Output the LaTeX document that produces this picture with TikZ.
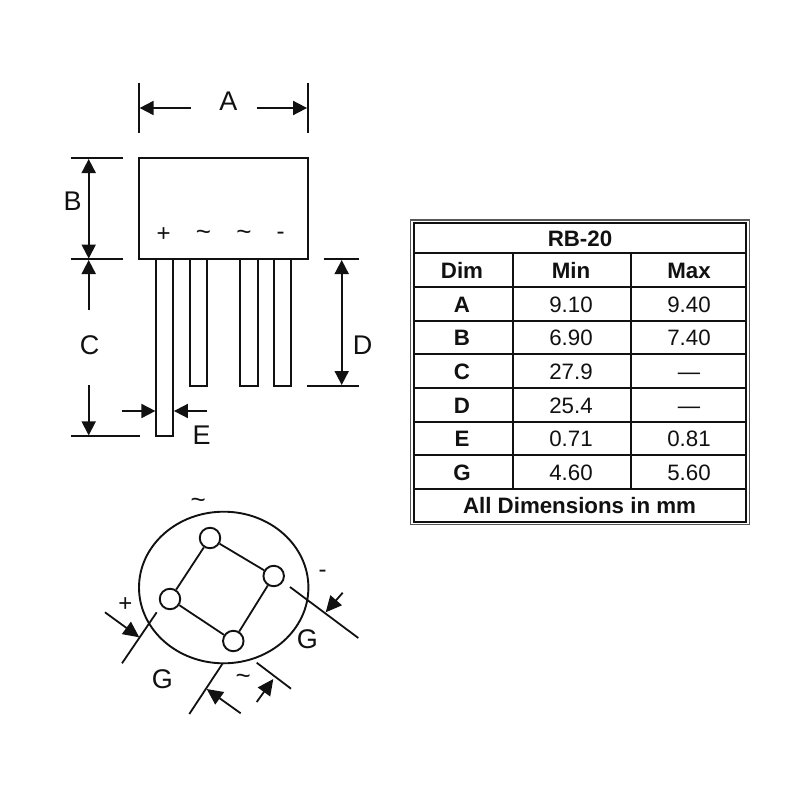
\documentclass[tikz,border=0pt]{standalone}
\usepackage{fontspec}
\setmainfont{Liberation Sans}
\usetikzlibrary{arrows.meta}
\definecolor{ink}{HTML}{111111}
\tikzset{
  part/.style={draw=ink,line width=1.9pt,fill=white},
  guide/.style={draw=ink,line width=1.8pt},
  dimline/.style={draw=ink,line width=1.8pt,-{Triangle[length=14pt,width=14pt]}},
  slantdim/.style={draw=ink,line width=1.8pt,-{Triangle[length=16pt,width=15pt]}},
  dimboth/.style={draw=ink,line width=1.8pt,{Triangle[length=14pt,width=14pt]}-{Triangle[length=14pt,width=14pt]}},
  letter/.style={text=ink,font=\fontsize{27}{27}\selectfont,inner sep=0pt,text height=19.5pt,text depth=0pt},
  pinmark/.style={text=ink,font=\fontsize{24}{24}\selectfont,inner sep=0pt},
  tilde/.style={text=ink,font=\fontsize{26}{26}\selectfont,inner sep=0pt},
  pad/.style={circle,draw=ink,line width=1.9pt,fill=white,minimum size=20.5pt,inner sep=0pt},
  rule/.style={draw=ink,line width=1.8pt},
  head/.style={text=ink,font=\bfseries\fontsize{22.3}{22.3}\selectfont,inner sep=0pt,text height=16pt,text depth=0pt},
  val/.style={text=ink,font=\fontsize{22.3}{22.3}\selectfont,inner sep=0pt,text height=16pt,text depth=0pt}
}
\begin{document}
\begin{tikzpicture}[x=1pt,y=-1pt]
\fill[white,use as bounding box] (0,0) rectangle (800,800);

% --- side view ---
\draw[part] (139,158.3) rectangle (308,259.3);
\draw[part] (156,259.3) rectangle (173.3,436);
\draw[part] (189.7,259.3) rectangle (207,386);
\draw[part] (240.3,259.3) rectangle (257.7,386);
\draw[part] (273.7,259.3) rectangle (291,386);

\node[pinmark] (pinA) at (163.7,235) {+};
\node[tilde] (pinB) at (203.5,235) {\textasciitilde};
\node[tilde] (pinC) at (244,235) {\textasciitilde};
\node[pinmark] (pinD) at (280.7,236) {-};

% A
\coordinate (a1) at (139,82.7); \coordinate (a2) at (139,133);
\coordinate (a3) at (307.7,82.7); \coordinate (a4) at (307.7,133);
\draw[guide] (a1) -- (a2);
\draw[guide] (a3) -- (a4);
\node[letter] (lblA) at (228.5,100.5) {A};
\coordinate (a5) at (190.7,108); \coordinate (a6) at (139.6,108);
\coordinate (a7) at (256.7,108); \coordinate (a8) at (307.1,108);
\draw[dimline] (a5) -- (a6);
\draw[dimline] (a7) -- (a8);

% B
\coordinate (b1) at (71,158.3); \coordinate (b2) at (122.7,158.3);
\coordinate (b3) at (71,259.3); \coordinate (b4) at (122.7,259.3);
\draw[guide] (b1) -- (b2);
\draw[guide] (b3) -- (b4);
\coordinate (b5) at (88.7,159); \coordinate (b6) at (88.7,258.6);
\draw[dimboth] (b5) -- (b6);
\node[letter] (lblB) at (72.7,200.7) {B};

% C
\coordinate (c1) at (88.7,310); \coordinate (c2) at (88.7,260);
\coordinate (c3) at (88.7,385); \coordinate (c4) at (88.7,435.4);
\coordinate (c5) at (71,436); \coordinate (c6) at (140,436);
\draw[dimline] (c1) -- (c2);
\draw[dimline] (c3) -- (c4);
\draw[guide] (c5) -- (c6);
\node[letter] (lblC) at (89.5,344.5) {C};

% D
\coordinate (d1) at (323.7,259.3); \coordinate (d2) at (358.7,259.3);
\coordinate (d3) at (307,385.7); \coordinate (d4) at (358.7,385.7);
\draw[guide] (d1) -- (d2);
\draw[guide] (d3) -- (d4);
\coordinate (d5) at (341.7,260); \coordinate (d6) at (341.7,385);
\draw[dimboth] (d5) -- (d6);
\node[letter] (lblD) at (362.5,344.5) {D};

% E
\coordinate (e1) at (121.7,411); \coordinate (e2) at (155.4,411);
\coordinate (e3) at (207,411); \coordinate (e4) at (173.9,411);
\draw[dimline] (e1) -- (e2);
\draw[dimline] (e3) -- (e4);
\node[letter] (lblE) at (201.7,434.5) {E};

% --- bottom view ---
\draw[part] (223.7,587.5) ellipse [x radius=84.7,y radius=75.8];
\node[pad] (p1) at (210,538) {};
\node[pad] (p2) at (273.7,576) {};
\node[pad] (p3) at (233.3,641) {};
\node[pad] (p4) at (170,599) {};
\draw[guide] (p1) -- (p2);
\draw[guide] (p2) -- (p3);
\draw[guide] (p3) -- (p4);
\draw[guide] (p4) -- (p1);

\node[tilde] (tilTop) at (198.3,503.5) {\textasciitilde};
\node[pinmark] (minus) at (322.7,574) {-};
\node[pinmark] (plus) at (125.3,605) {+};
\node[tilde] (tilBot) at (243.3,679) {\textasciitilde};
\node[letter] (g1) at (307.3,638.3) {G};
\node[letter] (g2) at (162.3,679) {G};

\coordinate (f1) at (156.7,612.3); \coordinate (f2) at (122,663.3);
\coordinate (f3) at (105,612.3); \coordinate (f4) at (139.3,637.3);
\draw[guide] (f1) -- (f2);
\draw[slantdim] (f3) -- (f4);

\coordinate (h1) at (290,587); \coordinate (h2) at (358.3,638);
\coordinate (h3) at (342.7,592.7); \coordinate (h4) at (325.7,612.3);
\draw[guide] (h1) -- (h2);
\draw[slantdim] (h3) -- (h4);

\coordinate (i1) at (222.3,664); \coordinate (i2) at (189.3,714);
\coordinate (i3) at (240.7,713.3); \coordinate (i4) at (206.7,689);
\draw[guide] (i1) -- (i2);
\draw[slantdim] (i3) -- (i4);

\coordinate (j1) at (256.7,662.7); \coordinate (j2) at (291,688.7);
\coordinate (j3) at (256.7,702); \coordinate (j4) at (273.3,679);
\draw[guide] (j1) -- (j2);
\draw[slantdim] (j3) -- (j4);

% --- table ---
\draw[draw=ink!70,line width=1.5pt] (410.7,220) rectangle (749.3,524.6);
\draw[rule] (413.9,222.9) rectangle (745.9,521.7);
\foreach \yy in {253,287,320.7,354.3,387.7,422,455.3,488.7}
  \draw[rule] (413.9,\yy) -- (745.9,\yy);
\foreach \xx in {512.7,630.7}
  \draw[rule] (\xx,253) -- (\xx,488.7);

\node[head] (title) at (580,238) {RB-20};
\node[head] (hDim) at (462,270) {Dim};
\node[head] (hMin) at (571,270) {Min};
\node[head] (hMax) at (689,270) {Max};
\foreach \nm/\yy/\lo/\hi in {A/304/9.10/9.40,B/337.5/6.90/7.40,C/371/27.9/—,D/405/25.4/—,E/438.7/0.71/0.81,G/472/4.60/5.60}{
  \node[head] (row\nm) at (462,\yy) {\nm};
  \node[val] (min\nm) at (571,\yy) {\lo};
  \node[val] (max\nm) at (689,\yy) {\hi};
}
\node[head] (foot) at (579.5,505) {All Dimensions in mm};
\end{tikzpicture}
\end{document}
